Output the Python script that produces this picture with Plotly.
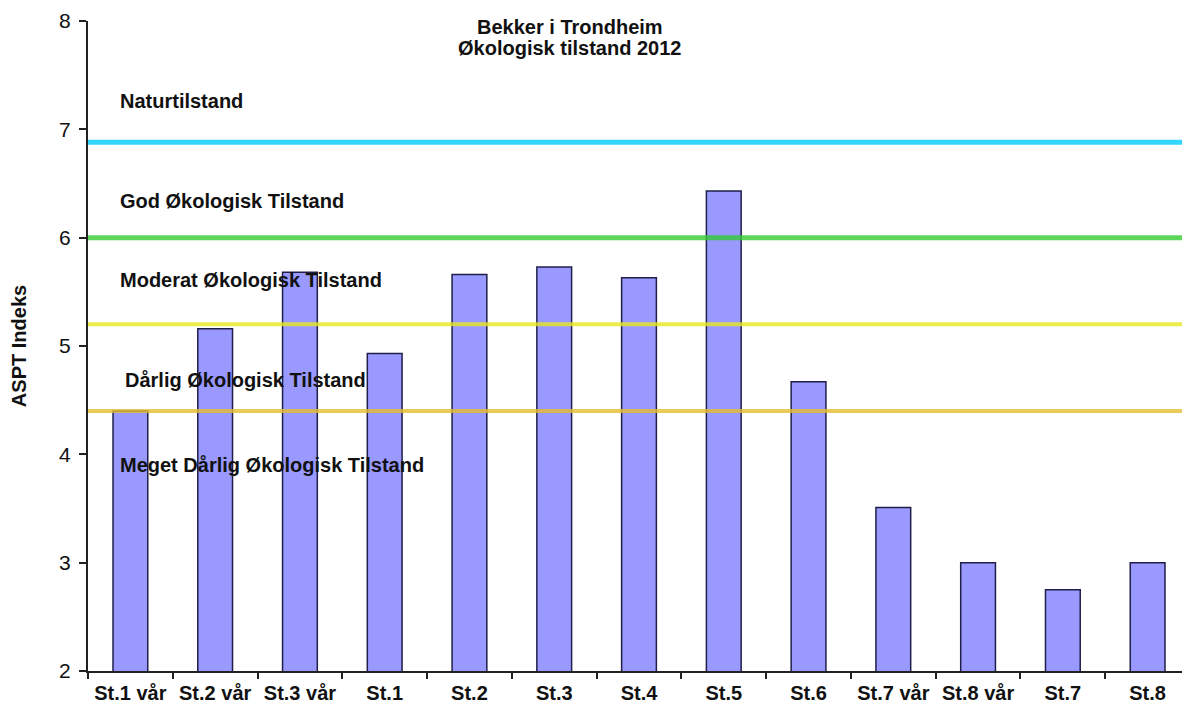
import plotly.graph_objects as go

categories = ["St.1 vår", "St.2 vår", "St.3 vår", "St.1", "St.2", "St.3", "St.4",
              "St.5", "St.6", "St.7 vår", "St.8 vår", "St.7", "St.8"]
aspt_values = [4.40, 5.16, 5.68, 4.93, 5.66, 5.73, 5.63, 6.43, 4.67, 3.51, 3.00, 2.75, 3.00]

class_limits = [6.88, 6.0, 5.2, 4.4]
class_colors = ["#00CCFF", "#33CC33", "#E8E820", "#E6BE30"]
class_widths = [5, 5, 4, 4]

class_labels = ["Naturtilstand", "God Økologisk Tilstand", "Moderat Økologisk Tilstand",
                "Dårlig Økologisk Tilstand", "Meget Dårlig Økologisk Tilstand"]
class_label_y = [7.26, 6.34, 5.61, 4.69, 3.90]
class_label_x = [0.027, 0.027, 0.027, 0.032, 0.027]

FONT = "Liberation Sans, Arial, sans-serif"

fig = go.Figure()
fig.add_trace(go.Bar(
    x=categories, y=aspt_values, base=0,
    marker=dict(color="#9999FF", line=dict(color="#1F1F4A", width=1.5)),
    showlegend=False,
))

shapes = []
for val, col, w in zip(class_limits, class_colors, class_widths):
    shapes.append(dict(type="line", xref="paper", yref="y", x0=0, x1=1, y0=val, y1=val,
                       line=dict(color=col, width=w), opacity=0.8, layer="above"))

annotations = []
for txt, yv, xv in zip(class_labels, class_label_y, class_label_x):
    annotations.append(dict(text=txt, xref="paper", yref="y", x=xv, y=yv, xanchor="left",
                            yanchor="middle", showarrow=False,
                            font=dict(family=FONT, size=20, color="#111111", weight="bold")))
annotations.append(dict(text="Bekker i Trondheim", xref="paper", yref="paper", x=0.437, y=1.0,
                        yanchor="middle", xanchor="center", showarrow=False, yshift=-6,
                        font=dict(family=FONT, size=20, color="#111111", weight="bold")))
annotations.append(dict(text="Økologisk tilstand 2012", xref="paper", yref="paper", x=0.437, y=1.0,
                        yanchor="middle", xanchor="center", showarrow=False, yshift=-27,
                        font=dict(family=FONT, size=20, color="#111111", weight="bold")))

# the page body adds an 8px margin; figure is sized to fill the rest of the window
fig.update_layout(
    width=1182, height=696,
    margin=dict(l=80, r=0, t=13, b=33),
    paper_bgcolor="white", plot_bgcolor="white",
    bargap=0.59,
    shapes=shapes, annotations=annotations,
    font=dict(family=FONT, color="#111111"),
)
fig.update_xaxes(
    type="category", showline=True, linecolor="#222222", linewidth=2,
    ticks="outside", tickson="boundaries", ticklen=6, tickwidth=2, tickcolor="#222222",
    ticklabelstandoff=3,
    tickfont=dict(family=FONT, size=20, color="#111111", weight="bold"),
    showgrid=False, zeroline=False,
)
fig.update_yaxes(
    range=[2, 8], dtick=1, showline=True, linecolor="#222222", linewidth=2,
    ticks="outside", ticklen=7, tickwidth=2, tickcolor="#222222", ticklabelstandoff=4,
    tickfont=dict(family=FONT, size=21, color="#111111"),
    showgrid=False, zeroline=False,
    title=dict(text="ASPT Indeks", standoff=34,
               font=dict(family=FONT, size=20, color="#111111", weight="bold")),
)

fig.write_html("out.html")
